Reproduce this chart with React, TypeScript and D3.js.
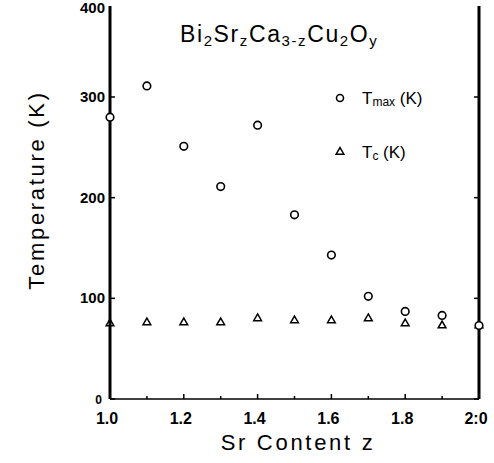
import React from "react";
import * as d3 from "d3";

const zValues = [1.0, 1.1, 1.2, 1.3, 1.4, 1.5, 1.6, 1.7, 1.8, 1.9, 2.0];
const tmaxValues = [280, 311, 251, 211, 272, 183, 143, 102, 87, 83, 73];
const tcValues = [75, 76, 76, 76, 80, 78, 78, 80, 75, 73, 73];
const xTicks = [1.0, 1.2, 1.4, 1.6, 1.8, 2.0];
const xTickLabels = ["1.0", "1.2", "1.4", "1.6", "1.8", "2:0"];
const yTicks = [0, 100, 200, 300, 400];
const yTickLabels = ["0", "100", "200", "300", "400"];
const xMinor = [1.1, 1.3, 1.5, 1.7, 1.9];

const W = 494;
const H = 463;
const left = 110;
const right = 479;
const bottom = 399;
const topY = 6;

export default function App() {
  const x = d3.scaleLinear().domain([1.0, 2.0]).range([left, right]);
  const y = d3.scaleLinear().domain([0, 300]).range([bottom, 97]);
  const tri = d3.symbol().type(d3.symbolTriangle).size(26)();
  const font = "'Liberation Sans', Arial, Helvetica, sans-serif";

  return (
    <svg width={W} height={H} style={{ position: "absolute", left: 0, top: 0, background: "#fff" }}>
      <rect width={W} height={H} fill="#fff" />
      {/* axes */}
      <line x1={left} y1={topY} x2={left} y2={bottom} stroke="#000" strokeWidth={3} />
      <line x1={right} y1={topY} x2={right} y2={bottom} stroke="#000" strokeWidth={3} />
      <line x1={left} y1={bottom} x2={right} y2={bottom} stroke="#000" strokeWidth={1.5} />
      {yTicks.map((t) => (
        <g key={"yt" + t}>
          <line x1={left} x2={left + 5} y1={y(t)} y2={y(t)} stroke="#000" strokeWidth={1.5} />
          <line x1={right - 5} x2={right} y1={y(t)} y2={y(t)} stroke="#000" strokeWidth={1.5} />
        </g>
      ))}
      {xTicks.concat(xMinor).map((t) => (
        <line key={"xt" + t} x1={x(t)} x2={x(t)} y1={bottom} y2={bottom - (xMinor.includes(t) ? 3 : 5)} stroke="#000" strokeWidth={1.5} />
      ))}
      {yTicks.map((t, i) => (
        <text
          key={"yl" + t}
          x={t === 0 ? left - 8 : left - 5}
          y={t === 0 ? y(t) + 5 : t === 400 ? 13 : y(t) + 5}
          textAnchor="end"
          fontFamily={font}
          fontWeight="bold"
          fontSize={t === 0 ? 12 : 15}
          fill="#000"
        >
          {yTickLabels[i]}
        </text>
      ))}
      {xTicks.map((t, i) => (
        <text key={"xl" + t} x={x(t) - 3} y={424} textAnchor="middle" fontFamily={font} fontWeight="bold" fontSize={16} fill="#000">
          {xTickLabels[i]}
        </text>
      ))}
      {/* axis titles */}
      <text x={298} y={450} textAnchor="middle" fontFamily={font} fontSize={22} letterSpacing={2.7} fill="#000">
        Sr Content z
      </text>
      <text transform="translate(44,190) rotate(-90)" textAnchor="middle" fontFamily={font} fontSize={22} letterSpacing={2.7} fill="#000">
        Temperature (K)
      </text>
      {/* chart title */}
      <text x={180} y={42} fontFamily={font} fontSize={23} letterSpacing={1.6} fill="#000">
        Bi<tspan fontSize={15} dy={4}>2</tspan>
        <tspan dy={-4}>Sr</tspan>
        <tspan fontSize={15} dy={4}>z</tspan>
        <tspan dy={-4}>Ca</tspan>
        <tspan fontSize={15} dy={4}>3-z</tspan>
        <tspan dy={-4}>Cu</tspan>
        <tspan fontSize={15} dy={4}>2</tspan>
        <tspan dy={-4}>O</tspan>
        <tspan fontSize={15} dy={4}>y</tspan>
      </text>
      {/* legend */}
      <circle cx={340} cy={98} r={3.5} fill="none" stroke="#000" strokeWidth={1.6} />
      <text x={362} y={104} fontFamily={font} fontSize={17} fill="#000">
        T<tspan fontSize={12} dy={2}>max</tspan>
        <tspan dy={-2}> (K)</tspan>
      </text>
      <path d={tri} transform="translate(340,152)" fill="none" stroke="#000" strokeWidth={1.5} />
      <text x={362} y={158} fontFamily={font} fontSize={17} fill="#000">
        T<tspan fontSize={12} dy={2}>c</tspan>
        <tspan dy={-2}> (K)</tspan>
      </text>
      {/* data */}
      {zValues.map((z, i) => (
        <path key={"tc" + i} d={tri} transform={`translate(${x(z)},${y(tcValues[i])})`} fill="none" stroke="#000" strokeWidth={1.5} />
      ))}
      {zValues.map((z, i) => (
        <circle key={"tm" + i} cx={x(z)} cy={y(tmaxValues[i])} r={3.8} fill="#fff" stroke="#000" strokeWidth={1.6} />
      ))}
    </svg>
  );
}
